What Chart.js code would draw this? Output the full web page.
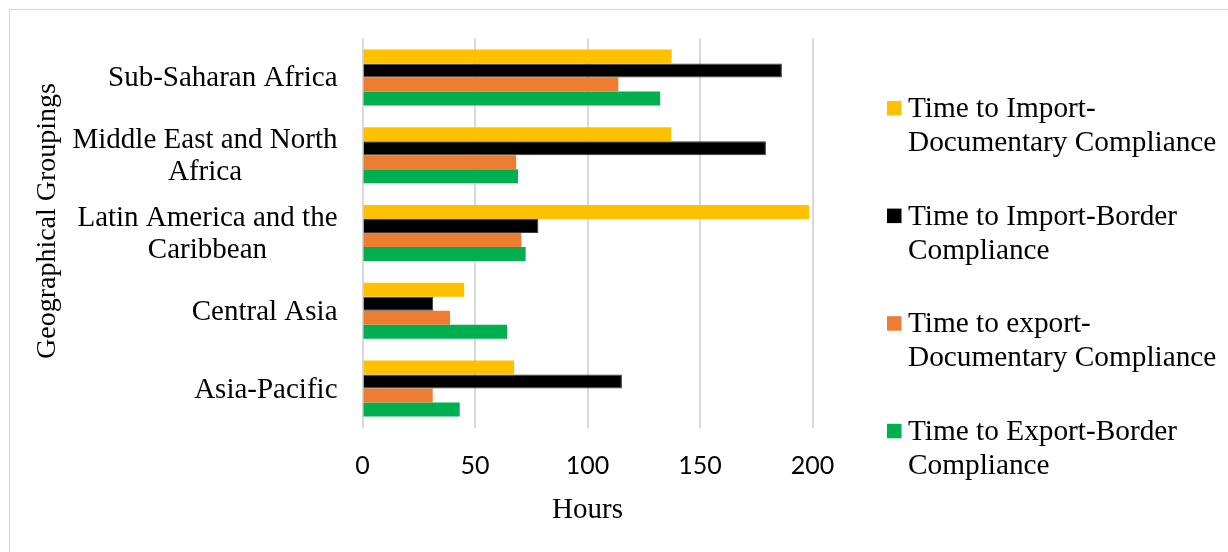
<!DOCTYPE html>
<html>
<head>
<meta charset="utf-8">
<script src="https://cdn.jsdelivr.net/npm/chart.js@4/dist/chart.umd.min.js"></script>
<style>
  html, body { margin: 0; padding: 0; background: #fff; }
  #wrap { position: relative; width: 1228px; height: 552px; overflow: hidden; }
  #frame { position: absolute; left: 9px; top: 9px; right: -4px; bottom: -4px;
           border-top: 1px solid #d6d6d6; border-left: 1px solid #d6d6d6; }
  canvas { position: absolute; left: 0; top: 0; }
</style>
</head>
<body>
<div id="wrap">
  <div id="frame"></div>
  <canvas id="c" width="1228" height="552"></canvas>
</div>
<script>
// Regions (each label split into its display lines)
const regions = [
  ["Sub-Saharan Africa"],
  ["Middle East and North", "Africa"],
  ["Latin America and the", "Caribbean"],
  ["Central Asia"],
  ["Asia-Pacific"]
];

// Series names, split into legend lines
const seriesLines = [
  ["Time to Import-", "Documentary Compliance"],
  ["Time to Import-Border", "Compliance"],
  ["Time to export-", "Documentary Compliance"],
  ["Time to Export-Border", "Compliance"]
];

// Hours per region
const importDocumentary = [137.4, 137.2, 198.5, 45.2, 67.4];
const importBorder      = [186.4, 179.3, 78.2, 31.4, 115.3];
const exportDocumentary = [113.7, 68.3, 70.6, 38.9, 31.2];
const exportBorder      = [132.3, 69.1, 72.5, 64.3, 43.2];

// Axis ticks
const hourTicks = [0, 50, 100, 150, 200];

const colors = ["#FFC000", "#000000", "#ED7D31", "#00B050"];
const seriesValues = [importDocumentary, importBorder, exportDocumentary, exportBorder];

const SERIF = '"Liberation Serif", "Times New Roman", serif';

// Draws the wrapped region labels, the rotated axis title and the legend
const textPlugin = {
  id: 'regionText',
  afterDraw(chart) {
    const ctx = chart.ctx;
    const yScale = chart.scales.y;
    const area = chart.chartArea;
    ctx.save();
    ctx.fillStyle = '#000';

    // Region labels: right-aligned blocks, lines centred within a block
    ctx.font = '29px ' + SERIF;
    ctx.textAlign = 'center';
    ctx.textBaseline = 'alphabetic';
    yScale.getLabels().forEach((lines, i) => {
      const yc = yScale.getPixelForTick(i);
      const w = Math.max(...lines.map(l => ctx.measureText(l).width));
      const cx = area.left - 25 - w / 2;
      const n = lines.length;
      lines.forEach((line, j) => {
        ctx.fillText(line, cx, yc + 9 + j * 32 - (n - 1) * 16);
      });
    });

    // Vertical axis title
    ctx.save();
    ctx.translate(55, (area.top + area.bottom) / 2 - 12);
    ctx.rotate(-Math.PI / 2);
    ctx.font = '28px ' + SERIF;
    ctx.textAlign = 'center';
    ctx.textBaseline = 'alphabetic';
    ctx.fillText('Geographical Groupings', 0, 0);
    ctx.restore();

    // Legend
    ctx.font = '29.3px ' + SERIF;
    ctx.textAlign = 'left';
    ctx.textBaseline = 'alphabetic';
    chart.data.datasets.forEach((ds, i) => {
      const base = 117 + i * 107.6;
      ctx.fillStyle = ds.backgroundColor;
      ctx.fillRect(887, base - 16, 14.5, 14.5);
      ctx.fillStyle = '#000';
      seriesLines[i].forEach((line, j) => {
        ctx.fillText(line, 908, base + j * 34);
      });
    });
    ctx.restore();
  }
};

new Chart(document.getElementById('c'), {
  type: 'bar',
  data: {
    labels: regions,
    datasets: seriesValues.map((vals, i) => ({
      label: seriesLines[i].join(' '),
      data: vals,
      backgroundColor: colors[i],
      borderColor: i === 1 ? '#3a3a3a' : colors[i],
      borderWidth: i === 1 ? 1 : 0,
      categoryPercentage: 0.72,
      barPercentage: 1.0
    }))
  },
  options: {
    indexAxis: 'y',
    responsive: false,
    animation: false,
    devicePixelRatio: 1,
    layout: { padding: { top: 38.5, right: 415.5, bottom: 0, left: 0 } },
    plugins: {
      legend: { display: false },
      tooltip: { enabled: false },
      title: { display: false }
    },
    scales: {
      x: {
        type: 'linear',
        min: 0,
        max: 200,
        afterBuildTicks: s => { s.ticks = hourTicks.map(v => ({ value: v })); },
        afterFit: s => { s.height = 124.5; },
        grid: { color: '#d9d9d9', lineWidth: 2, drawTicks: false },
        border: { display: false },
        ticks: {
          padding: 23,
          color: '#000',
          font: { family: 'Lato', size: 25 }
        },
        title: {
          display: true,
          text: 'Hours',
          color: '#000',
          font: { family: SERIF, size: 29 },
          padding: { top: 0, bottom: 24 }
        }
      },
      y: {
        type: 'category',
        afterFit: s => { s.width = 362.5; },
        grid: { display: false },
        border: { display: false },
        ticks: { display: false }
      }
    }
  },
  plugins: [textPlugin]
});
</script>
</body>
</html>
